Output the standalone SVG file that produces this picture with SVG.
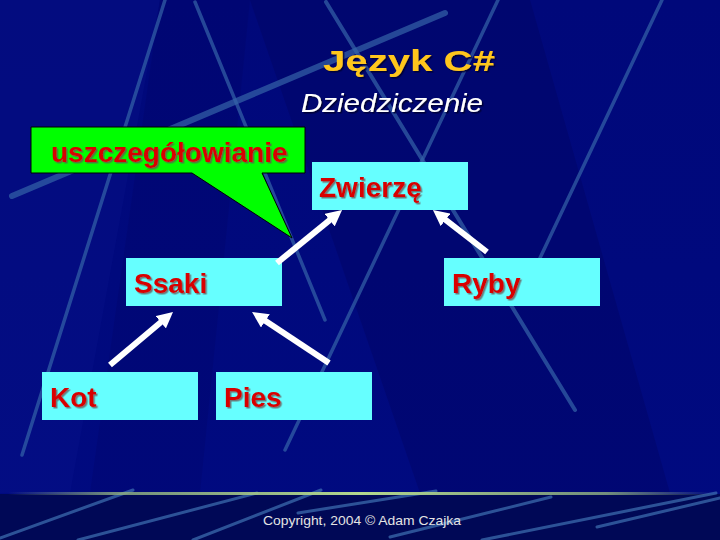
<svg xmlns="http://www.w3.org/2000/svg" width="720" height="540" viewBox="0 0 720 540">
  <defs>
    <linearGradient id="bg" x1="0" y1="0" x2="0" y2="1">
      <stop offset="0" stop-color="#00087A"/>
      <stop offset="1" stop-color="#000A80"/>
    </linearGradient>
    <linearGradient id="rule" x1="0" y1="0" x2="1" y2="0">
      <stop offset="0" stop-color="#9FC08A" stop-opacity="0"/>
      <stop offset="0.15" stop-color="#8FB080" stop-opacity="0.8"/>
      <stop offset="0.5" stop-color="#B4D88E"/>
      <stop offset="0.85" stop-color="#8FB080" stop-opacity="0.8"/>
      <stop offset="1" stop-color="#9FC08A" stop-opacity="0"/>
    </linearGradient>
    <filter id="shadow" x="-10%" y="-20%" width="130%" height="150%">
      <feDropShadow dx="1.5" dy="1.5" stdDeviation="0.3" flood-color="#6a5050" flood-opacity="0.75"/>
    </filter>
    <filter id="shadowDark" x="-10%" y="-20%" width="130%" height="150%">
      <feDropShadow dx="1.5" dy="1.5" stdDeviation="0.3" flood-color="#000030" flood-opacity="0.9"/>
    </filter>
    <marker id="head" viewBox="0 0 16 16" refX="2" refY="8" markerWidth="16" markerHeight="16" markerUnits="userSpaceOnUse" orient="auto">
      <path d="M0,0 L16,8 L0,16 Z" fill="#FFFFFF"/>
    </marker>
  </defs>
  <style>
    .streak { stroke: #3464A8; stroke-linecap: round; fill: none; }
    .fstreak { stroke: #3F72B4; stroke-width: 3; stroke-linecap: round; fill: none; opacity: 0.7; }
    .box { fill: #66FFFF; }
    .lbl { font-family: "Liberation Sans", Arial, sans-serif; font-weight: bold; font-size: 28px; fill: #D80000; filter: url(#shadow); }
    .arrow { stroke: #FFFFFF; stroke-width: 6; fill: none; marker-end: url(#head); }
  </style>

  <!-- background -->
  <g id="background">
    <rect x="0" y="0" width="720" height="540" fill="url(#bg)"/>
    <polygon points="0,0 160,0 70,493 0,493" fill="#1A2CA8" opacity="0.12"/>
    <polygon points="250,0 530,0 670,493 420,493" fill="#000050" opacity="0.25"/>
    <polygon points="160,0 250,0 200,493 90,493" fill="#000050" opacity="0.15"/>
    <line class="streak" x1="12" y1="196" x2="445" y2="13" stroke-width="6" opacity="0.7"/>
    <line class="streak" x1="165" y1="0" x2="22" y2="455" stroke-width="3.5" opacity="0.7"/>
    <line class="streak" x1="195" y1="2" x2="325" y2="320" stroke-width="3.5" opacity="0.7"/>
    <line class="streak" x1="326" y1="2" x2="575" y2="410" stroke-width="4" opacity="0.7"/>
    <line class="streak" x1="498" y1="0" x2="285" y2="450" stroke-width="3.5" opacity="0.7"/>
    <line class="streak" x1="662" y1="0" x2="540" y2="258" stroke-width="3.5" opacity="0.7"/>
    <rect x="0" y="494" width="720" height="46" fill="#000856"/>
    <line class="fstreak" x1="0" y1="538" x2="133" y2="490"/>
    <line class="fstreak" x1="78" y1="540" x2="257" y2="493"/>
    <line class="fstreak" x1="193" y1="540" x2="321" y2="490"/>
    <line class="fstreak" x1="298" y1="513" x2="436" y2="491"/>
    <line class="fstreak" x1="390" y1="537" x2="551" y2="497"/>
    <line class="fstreak" x1="482" y1="540" x2="716" y2="493"/>
    <line class="fstreak" x1="597" y1="527" x2="720" y2="498"/>
    <rect x="8" y="492" width="704" height="3" fill="url(#rule)"/>
  </g>

  <!-- titles -->
  <g id="title">
    <text x="323" y="71" font-family="Liberation Sans, Arial, sans-serif" font-weight="bold" font-size="29" fill="#FFC61E" textLength="172" lengthAdjust="spacingAndGlyphs" filter="url(#shadowDark)">Język C#</text>
  </g>
  <g id="subtitle">
    <text x="301" y="112" font-family="Liberation Sans, Arial, sans-serif" font-style="italic" font-size="26" fill="#FFFFFF" textLength="182" lengthAdjust="spacingAndGlyphs" filter="url(#shadowDark)">Dziedziczenie</text>
  </g>

  <!-- callout -->
  <g id="callout">
    <path d="M31,127 H305 V173 H262 L292,238 L192,173 H31 Z" fill="#00FF00" stroke="#000000" stroke-width="1"/>
    <text class="lbl" x="51" y="162">uszczegółowianie</text>
  </g>

  <!-- nodes -->
  <g id="node-zwierze">
    <rect class="box" x="312" y="162" width="156" height="48"/>
    <text class="lbl" x="319" y="197">Zwierzę</text>
  </g>
  <g id="node-ssaki">
    <rect class="box" x="126" y="258" width="156" height="48"/>
    <text class="lbl" x="134" y="293">Ssaki</text>
  </g>
  <g id="node-ryby">
    <rect class="box" x="444" y="258" width="156" height="48"/>
    <text class="lbl" x="452" y="293">Ryby</text>
  </g>
  <g id="node-kot">
    <rect class="box" x="42" y="372" width="156" height="48"/>
    <text class="lbl" x="50" y="407">Kot</text>
  </g>
  <g id="node-pies">
    <rect class="box" x="216" y="372" width="156" height="48"/>
    <text class="lbl" x="224" y="407">Pies</text>
  </g>

  <!-- connectors -->
  <g id="connectors">
    <line class="arrow" x1="277" y1="263" x2="331.2" y2="218.9"/>
    <line class="arrow" x1="487" y1="252" x2="444.0" y2="218.6"/>
    <line class="arrow" x1="110" y1="365" x2="162.3" y2="321.0"/>
    <line class="arrow" x1="329" y1="363" x2="263.7" y2="319.7"/>
  </g>

  <!-- footer -->
  <g id="footer">
    <text x="263" y="525" font-family="Liberation Sans, Arial, sans-serif" font-size="13" fill="#E4E4E4" textLength="198" lengthAdjust="spacingAndGlyphs">Copyright, 2004 © Adam Czajka</text>
  </g>
</svg>
